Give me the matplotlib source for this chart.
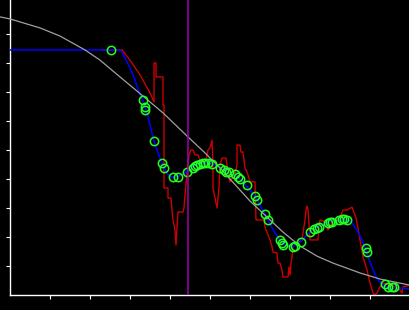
import matplotlib
matplotlib.use('Agg')
import matplotlib.pyplot as plt

# reference curve (smooth, gray)
ref_x = [-2.5, 0, 7.5, 12.5, 18.75, 22.5, 27.5, 33.25, 38.25, 44.5, 48.75, 52.5,
         57.5, 60, 65, 68.25, 72.5, 76.75, 80.75, 87.5, 92.5, 100]
ref_y = [95.9, 95.2, 92.1, 89.3, 84.5, 81.0, 75.2, 68.6, 62.8, 54.5, 49.0, 43.8,
         36.2, 32.4, 25.9, 21.7, 16.9, 13.4, 11.0, 7.6, 5.5, 3.4]

# fitted curve (blue)
fit_x = [0, 27, 28, 28.75, 30, 31.25, 32.5, 33.5, 34.25, 35,
         36, 37, 38, 39, 40, 41.75, 43.25, 45, 47, 48.75,
         50, 51.25, 53, 55, 57, 58.5, 60, 61.25, 62.5, 63.75,
         65, 66.25, 67.5, 68.75, 70.5, 72, 73.75, 75.5, 77.5, 80,
         82.5, 84.5, 85.75, 87, 88, 89, 90, 91, 92, 93.25,
         95, 97.5, 100]
fit_y = [84.5, 84.5, 83.8, 81.7, 78.3, 74.1, 69.0, 66.2, 62.8, 58.6,
         53.1, 49.0, 45.5, 42.4, 40.7, 40.7, 41.7, 43.8, 45.2, 45.5,
         45.5, 44.8, 43.8, 42.1, 40.7, 38.6, 36.2, 34.1, 31.0, 27.9,
         24.5, 21.4, 19.0, 17.2, 16.6, 17.6, 20.0, 22.4, 23.8, 25.2,
         25.9, 25.9, 24.5, 21.7, 19.0, 15.5, 11.4, 7.9, 5.2, 3.4,
         2.4, 2.4, 2.1]

# raw signal (red)
raw_x = [23, 28, 30, 32.5, 35, 36, 36, 36.5, 36.5, 38.25, 38.25, 38.5, 38.5, 39.5,
         39.5, 40.25, 40.5, 40.75, 41.25, 41.5, 41.75, 42, 43.25, 43.5, 43.75, 44.25,
         44.5, 44.75, 45.25, 45.75, 46.25, 47, 47.5, 48.25, 49, 49.5, 50, 50.5, 50.75,
         50.75, 51.25, 51.75, 52, 52.25, 52.5, 53, 54, 54.25, 54.75, 55, 56.25, 56.75,
         56.75, 57.5, 57.75, 58.25, 58.75, 59.25, 59.75, 60, 61.25, 61.5, 63.5, 63.75,
         64.5, 65, 65.5, 65.75, 66.75, 67, 67.5, 68, 68.25, 69.5, 69.75, 70, 70.25,
         70.5, 70.75, 71.75, 73, 73.25, 73.75, 74, 74.25, 74.5, 74.75, 75, 77, 77.25,
         77.5, 78.75, 79.25, 79.5, 80, 80.5, 81.75, 82.5, 83.25, 84.25, 85.5, 85.75,
         86.5, 87, 87.5, 88.25, 89.25, 90, 90.75, 91.25, 91.75, 92.5, 93.25, 95, 96.25,
         97.5, 98, 98.25, 100]
raw_y = [84.5, 84.5, 81.0, 75.9, 69.7, 66.6, 80.0, 80.0, 75.2, 75.2, 65.5, 65.5, 36.9, 36.9,
         33.4, 33.4, 29.3, 25.9, 22.4, 17.2, 23.1, 28.6, 28.6, 30.0, 34.5, 42.1,
         44.8, 48.3, 50.0, 50.0, 48.3, 48.3, 46.6, 45.5, 46.6, 50.0, 50.7, 53.4, 44.8,
         36.9, 33.4, 30.0, 33.4, 36.9, 44.8, 47.2, 47.2, 44.8, 40.3, 39.0, 42.1, 44.8,
         51.7, 51.7, 49.3, 49.3, 43.8, 42.4, 40.3, 39.0, 39.0, 25.9, 25.9, 23.4,
         20.7, 19.0, 16.6, 14.8, 14.5, 11.0, 11.0, 8.6, 6.2, 6.2, 9.7, 6.9, 11.0,
         13.1, 16.6, 17.9, 19.0, 21.4, 25.9, 29.3, 30.7, 29.3, 24.8, 19.0, 19.0, 23.4,
         25.9, 25.2, 23.1, 22.4, 23.4, 25.2, 25.9, 26.9, 29.3, 29.3, 30.3, 29.3,
         26.6, 23.1, 19.0, 13.1, 8.6, 4.1, 0.7, 0.0, 0.7, 2.8, 4.1, 3.4, 2.8,
         1.7, 0.7, 2.8, 3.4]

# sample points (green circles)
pts_x = [25.25, 33.25, 33.75, 33.75, 36, 38, 38.5, 40.75, 42, 44.25, 45.75, 46.25,
         46.75, 47.5, 48.25, 48.75, 49.5, 50.5, 52.5, 53.5, 54, 54.75, 56.25, 57,
         57.5, 59.25, 61.25, 61.75, 63.75, 64.5, 67.5, 68, 68.25, 70.75, 71.25, 72.75,
         75, 76, 76.75, 77.25, 79.5, 80, 80.5, 82.25, 83, 83.5, 84.25, 89, 89.25,
         93.75, 94.5, 95.5, 96]
pts_y = [84.5, 67.2, 64.8, 63.8, 53.1, 45.5, 43.8, 40.7, 40.7, 42.4, 43.8, 44.5,
         44.8, 45.2, 45.5, 45.5, 45.5, 45.2, 43.8, 43.1, 42.4, 42.4, 41.7, 40.7,
         40.0, 37.9, 34.1, 32.8, 27.9, 25.9, 19.0, 17.9, 17.2, 16.6, 16.9, 18.3,
         21.7, 22.8, 23.1, 23.4, 24.8, 25.2, 25.2, 25.9, 26.2, 26.2, 25.9, 16.2, 14.8,
         3.8, 2.8, 2.8, 2.8]

marker_x = 44.5

fig = plt.figure(figsize=(4.1, 3.1), dpi=100, facecolor='black')
ax = fig.add_axes([10 / 410, 15 / 310, 400 / 410, 295 / 310])
ax.set_facecolor('black')

ax.plot(raw_x, raw_y, color='#cc0000', lw=1.0, zorder=2)
ax.plot(fit_x, fit_y, color='#0000ff', lw=1.1, zorder=3)
ax.plot(ref_x, ref_y, color='#a0a0a0', lw=0.9, zorder=4, clip_on=False)
ax.plot(pts_x, pts_y, 'o', mfc='none', mec='#22ff22', ms=6, mew=1.1, zorder=5)
ax.axvline(marker_x, color='#a000b0', lw=1.1, zorder=6)

ax.set_xlim(0, 100)
ax.set_ylim(0, 295 / 2.9)
ax.set_xticks(range(10, 101, 10))
ax.set_yticks(range(10, 91, 10))
ax.tick_params(colors='white', direction='out', length=3, width=0.8,
               labelbottom=False, labelleft=False)
for side in ['top', 'right']:
    ax.spines[side].set_visible(False)
for side in ['left', 'bottom']:
    ax.spines[side].set_color('white')
    ax.spines[side].set_linewidth(1.0)

fig.savefig('out.png', dpi=100, facecolor='black')
